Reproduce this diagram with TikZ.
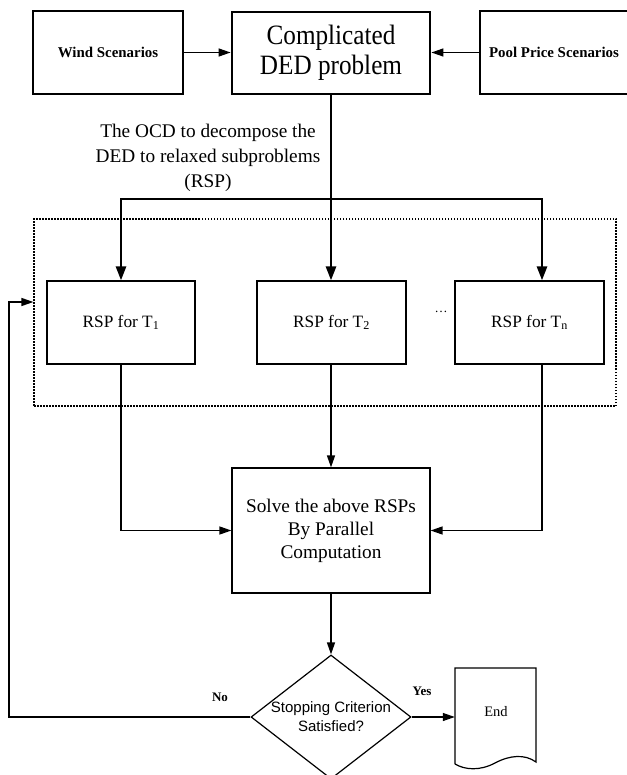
\documentclass[tikz,border=0pt]{standalone}
\usepackage{fontspec}
\setmainfont{Liberation Serif}
\newfontfamily\dedfont[FakeStretch=0.9]{Liberation Serif}
\newfontfamily\sansf{Liberation Sans}
\usetikzlibrary{arrows.meta,shapes.geometric}
\begin{document}
\begin{tikzpicture}[x=1pt,y=-1pt,
  box/.style={draw,line width=1.2pt,inner sep=0pt,align=center},
  arr/.style={line width=1.3pt,-{Triangle[length=12pt,width=8pt]}},
  thickarr/.style={line width=2.7pt,-{Triangle[length=14pt,width=10pt]}},
  lbl/.style={font=\fontsize{13}{15}\selectfont\bfseries}]
\useasboundingbox (0,0) rectangle (626,775);
% top row
\node[box,minimum width=150pt,minimum height=83pt,font=\fontsize{14.9}{17}\selectfont\bfseries] (wind) at (108,52.5) {Wind Scenarios};
\node[box,line width=2.8pt,minimum width=198pt,minimum height=82pt,font=\dedfont\fontsize{28}{30}\selectfont] (ded) at (331,53) {Complicated\\DED problem};
\node[box,minimum width=148pt,minimum height=83pt,font=\fontsize{14.9}{17}\selectfont\bfseries] (pool) at (554,52.5) {Pool Price Scenarios};
\node[align=center,font=\fontsize{19.3}{25}\selectfont] (ocd) at (208,158) {The OCD to decompose the\\DED to relaxed subproblems\\(RSP)};
% group
\node[draw,line width=1.2pt,dash pattern=on 1.5pt off 1.5pt,minimum width=582pt,minimum height=187pt,inner sep=0pt] (grp) at (325,312.5) {};
\node[box,minimum width=148pt,minimum height=83pt,font=\fontsize{17.3}{20}\selectfont] (r1) at (121,322.5) {RSP for T\textsubscript{1}};
\node[box,minimum width=149pt,minimum height=83pt,font=\fontsize{17.3}{20}\selectfont] (r2) at (331.5,322.5) {RSP for T\textsubscript{2}};
\node[box,minimum width=149pt,minimum height=83pt,font=\fontsize{17.3}{20}\selectfont] (r3) at (529.5,322.5) {RSP for T\textsubscript{n}};
\node[font=\fontsize{13}{13}\selectfont,inner sep=0pt] (dots) at (441,312) {…};
% solve
\node[box,minimum width=198pt,minimum height=125pt,font=\fontsize{19.3}{23}\selectfont] (solve) at (331,530.5) {Solve the above RSPs\\By Parallel\\Computation};
% decision
\node[draw,diamond,line width=1.2pt,inner sep=0pt,minimum width=160pt,minimum height=124pt] (dec) at (331,717) {};
\node[font=\sansf\fontsize{15}{19}\selectfont,align=center] (dectext) at (331,717) {Stopping Criterion\\Satisfied?};
% end document
\node[minimum width=81pt,minimum height=96pt,inner sep=0pt] (end) at (495.5,717) {};
\draw[line width=1.2pt] (455,764) -- (455,668) -- (536,668) -- (536,762)
  .. controls (525,754) and (510,755) .. (495,763)
  .. controls (480,771) and (465,770) .. (455,764);
\node[font=\fontsize{14.5}{17}\selectfont] (endtext) at (496,712) {End};
% connectors
\coordinate (b1) at (121,199);
\coordinate (b3) at (542,199);
\coordinate (fb) at (9,302);
\draw[arr] (wind.east) -- (wind.east -| ded.west);
\draw[arr] (pool.west) -- (pool.west -| ded.east);
\draw[thickarr] (ded.south) -- (ded.south |- r2.north);
\draw[thickarr] (ded.south |- b1) -| (b1 |- r1.north);
\draw[thickarr] (ded.south |- b3) -| (b3 |- r3.north);
\draw[arr] (r1.south) |- (solve.west);
\draw[arr] (r2.south -| solve.north) -- (solve.north);
\draw[arr] (b3 |- r3.south) |- (solve.east);
\draw[arr] (solve.south) -- (dec.north);
\draw[arr] (dec.west) -| (fb) -- (fb -| grp.west);
\draw[arr] (dec.east) -- (end.west);
\node[lbl] (no) at (220,697) {No};
\node[lbl] (yes) at (422,691) {Yes};
\end{tikzpicture}
\end{document}
